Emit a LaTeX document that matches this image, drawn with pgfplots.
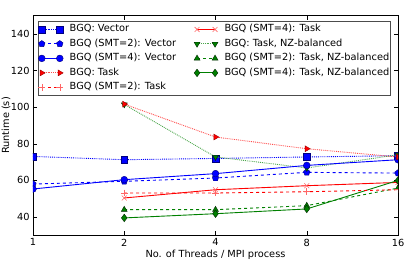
\documentclass[border=0pt]{standalone}
\usepackage{fontspec}
\setmainfont{DejaVu Sans}
\usepackage{pgfplots}
\pgfplotsset{compat=1.18}
\usetikzlibrary{plotmarks}
\definecolor{mgreen}{rgb}{0,0.5,0}
\begin{document}
\fontsize{9.8}{12}\selectfont
\begin{tikzpicture}
\begin{axis}[
  at={(0,0)}, anchor=south west,
  scale only axis, width=365pt, height=219.6pt,
  xmode=log, log basis x=2,
  xmin=1, xmax=16, ymin=30, ymax=150,
  xtick={1,2,4,8,16}, xticklabels={1,2,4,8,16},
  minor xtick={}, 
  ytick={40,60,80,100,120,140},
  tick align=inside, tick pos=both,
  major tick length=4pt,
  tick style={black, line width=0.5pt},
  axis line style={black, line width=0.8pt},
  /pgf/number format/assume math mode=true,
  ticklabel style={font=\fontsize{9.8}{12}\selectfont},
  label style={font=\fontsize{9.8}{12}\selectfont},
  xlabel={No. of Threads / MPI process},
  ylabel={Runtime (s)},
  xlabel style={yshift=3pt},
  ylabel style={at={(axis description cs:0,0.5)}, anchor=center, yshift=27pt},
  clip marker paths=true,
  every axis plot/.append style={line width=0.9pt, mark size=3.4pt},
  legend columns=2,
  legend cell align=left,
  legend style={at={(0.0137,0.977)}, anchor=north west,
    draw=black!70, line width=0.8pt,
    inner xsep=0pt, inner ysep=1pt,
    font=\fontsize{9.8}{12}\selectfont,
    nodes={inner xsep=1pt, inner ysep=2.35pt, text height=0.75em, text depth=0.25em},
    /tikz/every odd column/.append style={column sep=5.5pt},
    /tikz/every even column/.append style={column sep=17pt}},
  legend image code/.code={\draw[mark repeat=2,mark phase=1] plot coordinates {(0pt,0pt) (9pt,0pt) (18pt,0pt)};},
]
% 1 BGQ: Vector
\addplot[blue, densely dotted, mark=square*, mark options={solid, fill=blue, draw=blue!50!black, line width=0.4pt}]
 coordinates {(1,73.1) (2,71.3) (4,72.0) (8,72.8) (16,73.5)};
\addlegendentry{BGQ: Vector}
% 4 SMT4 Task
\addplot[red, mark=x, mark options={solid, draw=red!60, line width=0.6pt}]
 coordinates {(2,50.4) (4,54.9) (8,57.1) (16,58.9)};
\addlegendentry{BGQ (SMT=4): Task}
% 2 SMT2 Vector
\addplot[blue, dashed, mark=pentagon*, mark options={solid, fill=blue, draw=blue!50!black, line width=0.4pt}]
 coordinates {(1,58.0) (2,59.5) (4,61.3) (8,64.4) (16,64.0)};
\addlegendentry{BGQ (SMT=2): Vector}
% NZ balanced
\addplot[mgreen!70, densely dotted, mark=triangle*, mark options={solid, rotate=180, fill=mgreen, draw=black!70!mgreen, line width=0.4pt}]
 coordinates {(2,101.5) (4,72.8) (8,66.8) (16,74.0)};
\addlegendentry{BGQ: Task, NZ-balanced}
% 3 SMT4 Vector
\addplot[blue, mark=*, mark options={solid, fill=blue, draw=blue!50!black, line width=0.4pt}]
 coordinates {(1,55.3) (2,60.4) (4,63.7) (8,68.2) (16,71.3)};
\addlegendentry{BGQ (SMT=4): Vector}
% SMT2 NZ
\addplot[mgreen, dashed, mark=triangle*, mark options={solid, fill=mgreen, draw=black!70!mgreen, line width=0.4pt}]
 coordinates {(2,44.0) (4,44.0) (8,46.2) (16,55.8)};
\addlegendentry{BGQ (SMT=2): Task, NZ-balanced}
% Task
\addplot[red!70, densely dotted, mark=triangle*, mark options={solid, rotate=-90, fill=red, draw=red!60!black, line width=0.4pt}]
 coordinates {(2,101.7) (4,83.7) (8,77.3) (16,72.8)};
\addlegendentry{BGQ: Task}
% SMT4 NZ
\addplot[mgreen, mark=diamond*, mark size=3.8pt, mark options={solid, fill=mgreen, draw=black!70!mgreen, line width=0.4pt}]
 coordinates {(2,39.5) (4,41.8) (8,44.4) (16,60.0)};
\addlegendentry{BGQ (SMT=4): Task, NZ-balanced}
% SMT2 Task
\addplot[red, dashed, mark=+, mark options={solid, draw=red!60, line width=0.6pt}]
 coordinates {(2,53.1) (4,53.1) (8,53.8) (16,54.9)};
\addlegendentry{BGQ (SMT=2): Task}
\end{axis}
\pgfresetboundingbox
\path[use as bounding box] (-33pt,-32.7pt) rectangle (382pt,235.3pt);
\end{tikzpicture}
\end{document}
